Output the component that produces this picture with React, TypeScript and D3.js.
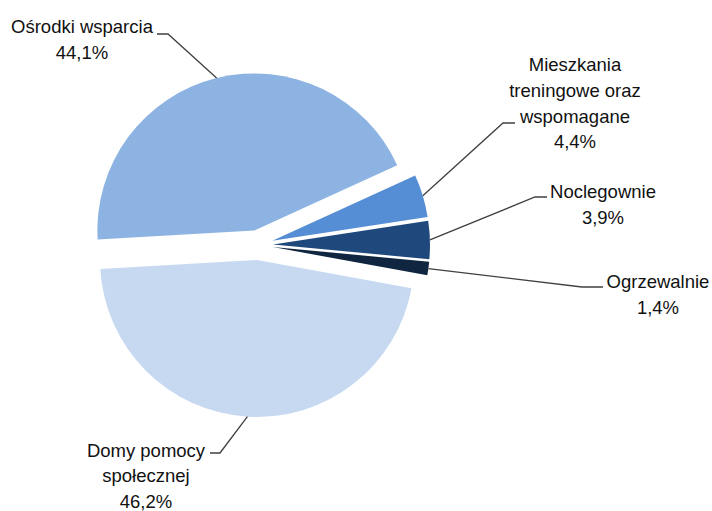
import React, { useRef, useEffect } from "react";
import * as d3 from "d3";

const categories = [
  "Ośrodki wsparcia",
  "Mieszkania treningowe oraz wspomagane",
  "Noclegownie",
  "Ogrzewalnie",
  "Domy pomocy społecznej",
];
const values = [44.1, 4.4, 3.9, 1.4, 46.2];
const labelLines = [
  ["Ośrodki wsparcia", "44,1%"],
  ["Mieszkania", "treningowe oraz", "wspomagane", "4,4%"],
  ["Noclegownie", "3,9%"],
  ["Ogrzewalnie", "1,4%"],
  ["Domy pomocy", "społecznej", "46,2%"],
];
const colors = ["#8db3e2", "#558ed5", "#1f497d", "#10253f", "#c6d9f1"];

// label layout: text center x, first baseline y, elbow start / end x, elbow y
const labelPos = [
  { x: 82, y: 33, ex0: 157, ex1: 168, ey: 34 },
  { x: 575, y: 71, ex0: 515, ex1: 503, ey: 123 },
  { x: 603, y: 198, ex0: 547, ex1: 535, ey: 197 },
  { x: 658, y: 288, ex0: 603, ex1: 582, ey: 287 },
  { x: 146, y: 456.5, ex0: 210, ex1: 220, ey: 453 },
];

function App() {
  const svgRef = useRef<SVGSVGElement>(null);

  useEffect(() => {
    const w = 712;
    const h = 511;
    const cx = 258;
    const cy = 245;
    const r = 157;
    const explode = 15;

    const svg = d3.select(svgRef.current).attr("width", w).attr("height", h);
    svg.selectAll("*").remove();

    const data = values.map((v, i) => ({ name: categories[i], value: v, i }));
    const start = (-93.3 * Math.PI) / 180;
    const pie = d3
      .pie<any>()
      .sort(null)
      .value((d) => d.value)
      .startAngle(start)
      .endAngle(start + 2 * Math.PI);
    const arcs = pie(data);
    const arc = d3.arc<any>().innerRadius(0).outerRadius(r);

    const off = (a: number, d: number) => [Math.sin(a) * d, -Math.cos(a) * d];

    const g = svg.append("g").attr("transform", `translate(${cx},${cy})`);

    g.selectAll("path")
      .data(arcs)
      .enter()
      .append("path")
      .attr("d", arc)
      .attr("fill", (d) => colors[d.data.i])
      .attr("transform", (d) => {
        const mid = (d.startAngle + d.endAngle) / 2;
        const [dx, dy] = off(mid, explode);
        return `translate(${dx},${dy})`;
      });

    // leader lines
    arcs.forEach((d) => {
      const mid = (d.startAngle + d.endAngle) / 2;
      const [ox, oy] = off(mid, explode);
      const [px, py] = off(mid, r);
      const p = labelPos[d.data.i];
      const pts: [number, number][] = [
        [p.ex0, p.ey],
        [p.ex1, p.ey],
        [cx + ox + px, cy + oy + py],
      ];
      svg
        .append("path")
        .attr("d", d3.line()(pts))
        .attr("fill", "none")
        .attr("stroke", "#404040")
        .attr("stroke-width", 1.3);
    });

    // labels
    labelLines.forEach((lines, i) => {
      const p = labelPos[i];
      const t = svg
        .append("text")
        .attr("x", p.x)
        .attr("y", p.y)
        .attr("text-anchor", "middle")
        .attr("font-family", "'Liberation Sans', Arial, sans-serif")
        .attr("font-size", 18.5)
        .attr("fill", "#111");
      lines.forEach((line, j) => {
        t.append("tspan")
          .attr("x", p.x)
          .attr("dy", j === 0 ? 0 : 25.8)
          .text(line);
      });
    });
  }, []);

  return (
    <div>
      <svg ref={svgRef} style={{ position: "absolute", left: 0, top: 0 }}></svg>
    </div>
  );
}

export default App;
